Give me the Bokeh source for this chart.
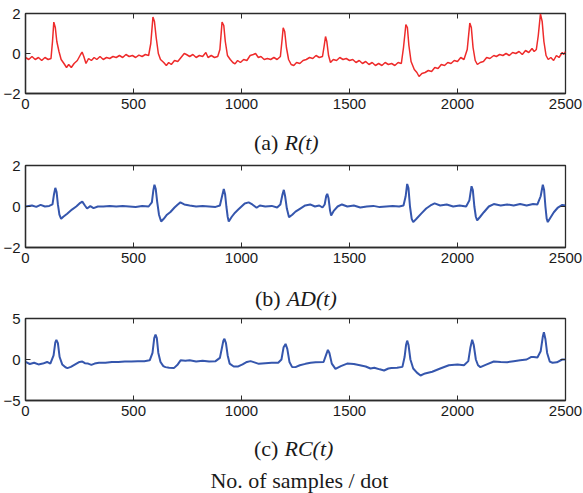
from bokeh.plotting import figure
from bokeh.models import Range1d, FixedTicker, LinearAxis
from bokeh.core.properties import value
from bokeh.layouts import column
from bokeh.embed import file_html
from bokeh.resources import INLINE

# ---------------- data (sample index, value) ----------------
r_x = [0, 15, 30, 45, 60, 75, 90, 105, 118, 125, 131, 138, 145, 155, 165, 178, 190, 200, 212, 225,
       240, 255, 262, 270, 280, 292, 305, 318, 330, 345, 360, 375, 390, 405, 420, 435, 450, 465, 480, 495,
       510, 525, 540, 555, 570, 580, 590, 597, 605, 615, 625, 640, 652, 663, 675, 690, 705, 720, 735, 745,
       760, 775, 790, 805, 820, 835, 845, 860, 875, 890, 900, 910, 918, 925, 935, 948, 960, 970, 982, 995,
       1010, 1025, 1040, 1055, 1065, 1078, 1090, 1105, 1120, 1135, 1150, 1165, 1180, 1188, 1193, 1200, 1208, 1218, 1230, 1242,
       1255, 1270, 1285, 1300, 1315, 1330, 1345, 1360, 1375, 1383, 1389, 1395, 1403, 1412, 1425, 1440, 1455, 1470, 1485, 1500,
       1515, 1530, 1545, 1560, 1575, 1590, 1605, 1620, 1635, 1650, 1665, 1680, 1695, 1710, 1725, 1740, 1750, 1761, 1768, 1775,
       1785, 1800, 1812, 1822, 1835, 1850, 1865, 1880, 1895, 1910, 1925, 1940, 1955, 1970, 1985, 2000, 2015, 2030, 2045, 2057,
       2064, 2072, 2082, 2092, 2105, 2120, 2135, 2150, 2168, 2180, 2195, 2210, 2225, 2240, 2255, 2270, 2285, 2300, 2315, 2330,
       2345, 2355, 2365, 2374, 2384, 2392, 2400, 2410, 2420, 2432, 2445, 2458, 2470, 2485, 2492, 2500]
r_y = [-0.2, -0.3, -0.15, -0.3, -0.2, -0.35, -0.2, -0.3, -0.25, 0.6, 1.57, 1.3, 0.6, 0.1, -0.3, -0.5, -0.7, -0.55, -0.7, -0.5,
       -0.35, -0.05, 0.07, -0.15, -0.5, -0.25, -0.35, -0.2, -0.3, -0.15, -0.3, -0.2, -0.25, -0.15, -0.2, -0.1, -0.2, -0.05, -0.15, -0.1,
       -0.2, -0.08, -0.15, -0.05, -0.1, 0.5, 1.82, 1.6, 0.8, 0.0, -0.3, -0.45, -0.6, -0.45, -0.55, -0.35, -0.4, -0.2, 0.0, -0.05,
       -0.15, -0.05, -0.2, -0.1, -0.15, 0.05, -0.2, -0.1, -0.2, -0.15, 0.2, 1.57, 1.4, 0.6, -0.1, -0.3, -0.45, -0.52, -0.35, -0.45,
       -0.3, -0.35, -0.1, -0.05, 0.0, -0.2, -0.15, -0.3, -0.25, -0.3, -0.2, -0.3, -0.15, 0.7, 1.28, 1.1, 0.3, -0.3, -0.55, -0.6,
       -0.45, -0.5, -0.35, -0.3, -0.2, -0.25, -0.1, -0.2, -0.15, 0.4, 0.85, 0.6, -0.1, -0.45, -0.3, -0.35, -0.2, -0.3, -0.25, -0.35,
       -0.3, -0.45, -0.35, -0.5, -0.4, -0.55, -0.45, -0.6, -0.5, -0.6, -0.45, -0.55, -0.5, -0.6, -0.45, -0.5, 0.3, 1.45, 1.3, 0.4,
       -0.4, -0.8, -0.95, -1.15, -1.0, -0.95, -0.85, -0.9, -0.7, -0.75, -0.55, -0.6, -0.45, -0.5, -0.35, -0.4, -0.2, -0.3, 0.2, 1.52,
       1.3, 0.3, -0.35, -0.55, -0.45, -0.4, -0.2, -0.25, -0.1, -0.15, -0.05, -0.1, 0.0, -0.1, 0.05, 0.0, 0.1, -0.05, 0.15, 0.05,
       0.25, 0.1, 0.2, 0.9, 1.98, 1.6, 0.6, -0.1, -0.3, -0.2, -0.35, -0.1, -0.2, 0.05, -0.05, 0.1]

ad_x = [0, 30, 50, 70, 90, 110, 125, 132, 138, 144, 150, 157, 165, 175, 193, 215, 235, 250, 263, 275,
        285, 300, 315, 335, 360, 390, 420, 450, 480, 510, 540, 570, 585, 592, 597, 603, 610, 618, 628, 640,
        655, 671, 690, 705, 717, 735, 760, 790, 820, 850, 880, 900, 910, 918, 924, 930, 936, 941, 955, 970,
        985, 1000, 1015, 1033, 1050, 1070, 1085, 1110, 1140, 1165, 1180, 1190, 1196, 1202, 1210, 1220, 1235, 1250, 1272, 1295,
        1318, 1340, 1360, 1375, 1385, 1392, 1397, 1403, 1410, 1415, 1428, 1445, 1465, 1490, 1520, 1550, 1580, 1610, 1640, 1670,
        1700, 1730, 1750, 1760, 1767, 1773, 1780, 1788, 1795, 1810, 1832, 1855, 1875, 1894, 1920, 1950, 1980, 2010, 2040, 2055,
        2065, 2071, 2078, 2085, 2091, 2105, 2122, 2145, 2168, 2200, 2230, 2260, 2290, 2320, 2350, 2370, 2385, 2395, 2401, 2407,
        2413, 2418, 2430, 2446, 2465, 2485, 2500]
ad_y = [0.0, 0.05, -0.02, 0.08, 0.0, 0.03, 0.1, 0.6, 0.91, 0.7, 0.1, -0.4, -0.6, -0.5, -0.35, -0.15, 0.0, 0.15, 0.24, 0.05,
        -0.1, 0.02, -0.08, 0.0, 0.0, 0.03, 0.0, 0.02, 0.0, -0.02, 0.02, 0.0, 0.2, 0.8, 1.06, 0.85, 0.2, -0.4, -0.73, -0.6,
        -0.4, -0.27, -0.05, 0.1, 0.2, 0.1, 0.05, 0.0, 0.02, 0.0, -0.02, 0.05, 0.5, 0.86, 0.6, 0.0, -0.5, -0.73, -0.5, -0.3,
        -0.15, 0.0, 0.15, 0.2, 0.1, -0.06, 0.05, 0.0, 0.03, -0.05, 0.1, 0.6, 0.81, 0.5, -0.1, -0.52, -0.4, -0.25, -0.1, 0.05,
        0.1, 0.0, 0.05, -0.05, 0.1, 0.5, 0.62, 0.4, -0.2, -0.44, -0.2, 0.0, 0.1, 0.0, 0.05, -0.05, 0.0, 0.03, -0.03, 0.0,
        0.02, 0.0, 0.05, 0.5, 1.1, 0.9, 0.0, -0.6, -0.76, -0.6, -0.35, -0.1, 0.05, 0.15, 0.05, 0.1, 0.0, 0.05, 0.0, 0.3,
        0.99, 0.8, 0.0, -0.5, -0.68, -0.5, -0.28, 0.0, 0.12, 0.05, 0.1, 0.05, 0.12, 0.05, 0.12, 0.1, 0.5, 1.06, 0.8, 0.0,
        -0.6, -0.76, -0.55, -0.28, -0.05, 0.08, 0.05]

rc_x = [0, 20, 40, 60, 80, 100, 115, 130, 138, 143, 150, 158, 170, 185, 194, 210, 230, 250, 263, 275,
        290, 305, 320, 340, 370, 400, 430, 460, 490, 520, 550, 575, 588, 596, 602, 608, 615, 625, 638, 648,
        665, 687, 705, 718, 740, 760, 790, 820, 850, 880, 900, 910, 916, 921, 928, 936, 945, 964, 985, 1005,
        1025, 1042, 1060, 1080, 1110, 1140, 1170, 1185, 1195, 1204, 1212, 1222, 1234, 1250, 1270, 1296, 1320, 1343, 1380, 1392,
        1400, 1407, 1418, 1435, 1460, 1489, 1520, 1548, 1575, 1597, 1615, 1640, 1660, 1680, 1694, 1720, 1745, 1755, 1762, 1767,
        1773, 1782, 1795, 1812, 1829, 1850, 1883, 1920, 1960, 2000, 2030, 2050, 2060, 2068, 2075, 2085, 2095, 2106, 2130, 2168,
        2200, 2230, 2260, 2290, 2320, 2340, 2353, 2370, 2385, 2395, 2400, 2407, 2415, 2427, 2440, 2460, 2485, 2500]
rc_y = [-0.3, -0.55, -0.4, -0.6, -0.5, -0.3, -0.5, 0.5, 2.1, 2.4, 2.0, 0.3, -0.6, -0.95, -1.05, -0.9, -0.6, -0.3, -0.25, -0.45,
        -0.5, -0.65, -0.5, -0.4, -0.4, -0.3, -0.3, -0.25, -0.25, -0.2, -0.2, -0.1, 0.8, 2.6, 3.05, 2.6, 0.8, -0.3, -0.8, -0.93,
        -1.0, -1.05, -0.6, -0.1, -0.15, -0.1, -0.25, -0.15, -0.25, -0.2, 0.2, 1.5, 2.3, 2.52, 2.0, 0.5, -0.5, -0.85, -0.85, -0.6,
        -0.3, -0.2, -0.35, -0.53, -0.45, -0.4, -0.4, 0.0, 1.5, 1.9, 1.3, -0.3, -0.9, -0.93, -0.7, -0.53, -0.4, -0.33, -0.3, 0.6,
        1.18, 0.8, -0.5, -1.14, -0.8, -0.5, -0.55, -0.7, -0.85, -1.1, -1.0, -1.2, -1.34, -1.1, -1.05, -1.0, -0.9, 0.3, 1.8, 2.3,
        1.8, 0.0, -1.1, -1.6, -1.95, -1.7, -1.5, -1.1, -0.7, -0.6, -0.7, -0.2, 1.5, 2.4, 1.8, 0.0, -0.7, -0.93, -0.65, -0.25,
        -0.3, -0.33, -0.2, -0.1, 0.0, 0.3, 0.3, 0.25, 1.0, 2.8, 3.33, 2.5, 0.8, -0.25, -0.4, -0.35, 0.0, 0.0]

x_ticks = [0, 500, 1000, 1500, 2000, 2500]
ticks_a = [-2, 0, 2]
ticks_b = [-2, 0, 2]
ticks_c = [-5, 0, 5]

captions = [("(a)", "R(t)"), ("(b)", "AD(t)"), ("(c)", "RC(t)")]
x_axis_title = "No. of samples / dot"

RED = "#ee2b2b"
BLUE = "#3556ad"
FRAME = "#2b2b2b"
TICK_FONT = "Liberation Sans"
CAP_FONT = "Liberation Serif"
W = 583
BL, BR = 25, 18


def panel(xs, ys, color, lw, yticks, ylim, height, top, bottom):
    p = figure(width=W, height=height, output_backend="svg", toolbar_location=None, title=None,
               x_range=Range1d(0, 2500), y_range=Range1d(*ylim),
               min_border_left=BL, min_border_right=BR,
               min_border_top=top, min_border_bottom=bottom)
    p.grid.visible = False
    p.outline_line_color = FRAME
    p.outline_line_width = 1.3
    p.line(xs, ys, line_color=color, line_width=lw)
    for ax in (p.xaxis[0], p.yaxis[0]):
        ax.axis_line_color = FRAME
        ax.axis_line_width = 1.3
        ax.major_tick_in = 5
        ax.major_tick_out = 0
        ax.minor_tick_line_color = None
        ax.major_tick_line_color = FRAME
        ax.major_label_text_font = TICK_FONT
        ax.major_label_text_font_size = "15px"
        ax.major_label_text_color = "#1a1a1a"
    p.xaxis.ticker = FixedTicker(ticks=x_ticks)
    p.yaxis.ticker = FixedTicker(ticks=yticks)
    p.xaxis.major_label_standoff = 5
    p.yaxis.major_label_standoff = 5
    # mirrored tick marks on top and right (boxed style), no labels
    top_ax = LinearAxis(ticker=FixedTicker(ticks=x_ticks), axis_line_color=None,
                        major_tick_in=5, major_tick_out=0, minor_tick_line_color=None,
                        major_tick_line_color=FRAME, major_label_standoff=0,
                        major_label_overrides={t: "" for t in x_ticks})
    right_ax = LinearAxis(ticker=FixedTicker(ticks=yticks), axis_line_color=None,
                          major_tick_in=5, major_tick_out=0, minor_tick_line_color=None,
                          major_tick_line_color=FRAME, major_label_standoff=0,
                          major_label_overrides={t: "" for t in yticks})
    p.add_layout(top_ax, "above")
    p.add_layout(right_ax, "right")
    return p


def caption_fig(height, lines):
    # lines: (normal, italic, split_x, baseline offset from the bottom, in px)
    c = figure(width=W, height=height, output_backend="svg", toolbar_location=None, title=None,
               x_axis_type=None, y_axis_type=None,
               x_range=Range1d(0, 2500), y_range=Range1d(0, height),
               min_border_left=BL, min_border_right=BR, min_border_top=0, min_border_bottom=0)
    c.grid.visible = False
    c.outline_line_color = None
    for normal, italic, sx, y in lines:
        if italic:
            c.text(x=[sx], y=[y], text=[normal], text_align="right",
                   text_baseline="alphabetic", text_font=value(CAP_FONT),
                   text_font_size=value("22px"), text_color="#1a1a1a")
            c.text(x=[sx + 28], y=[y], text=[italic], text_align="left",
                   text_baseline="alphabetic", text_font=value(CAP_FONT),
                   text_font_style="italic", text_font_size=value("22px"), text_color="#1a1a1a")
        else:
            c.text(x=[sx], y=[y], text=[normal], text_align="center",
                   text_baseline="alphabetic", text_font=value(CAP_FONT),
                   text_font_size=value("22px"), text_color="#1a1a1a")
    return c


p1 = panel(r_x, r_y, RED, 1.5, ticks_a, (-2, 2), 116, 13, 23)
c1 = caption_fig(39, [(captions[0][0], captions[0][1], 1171, 13)])
p2 = panel(ad_x, ad_y, BLUE, 2.0, ticks_b, (-2, 2), 115, 10, 23)
c2 = caption_fig(41, [(captions[1][0], captions[1][1], 1181, 13)])
p3 = panel(rc_x, rc_y, BLUE, 2.0, ticks_c, (-5, 5), 112, 7, 23)
c3 = caption_fig(70, [(captions[2][0], captions[2][1], 1171, 45),
                      (x_axis_title, None, 1268, 13)])

layout = column(p1, c1, p2, c2, p3, c3, spacing=0)
open("out.html", "w").write(file_html(layout, INLINE))
